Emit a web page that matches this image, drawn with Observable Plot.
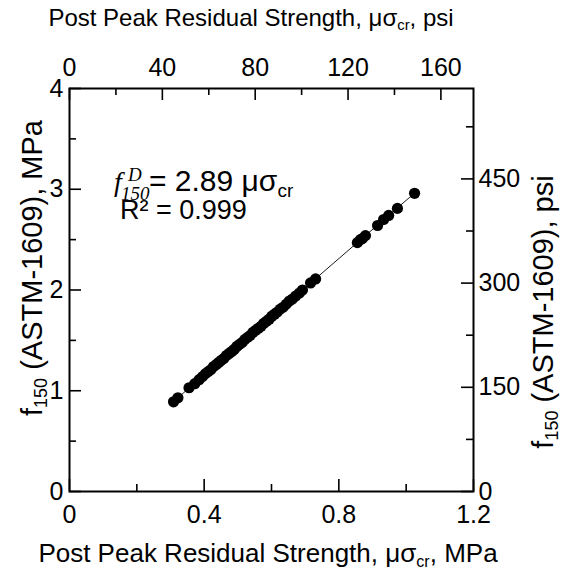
<!DOCTYPE html>
<html>
<head>
<meta charset="utf-8">
<script src="https://cdn.jsdelivr.net/npm/d3@7"></script>
<script src="https://cdn.jsdelivr.net/npm/@observablehq/plot@0.6"></script>
<style>
  html, body { margin: 0; padding: 0; background: white; }
  #chart { width: 566px; height: 578px; }
</style>
</head>
<body>
<div id="chart"></div>
<script>
// ---- data ----
const PSI_PER_MPA = 145.038;
const xMajorTicks = [0, 0.4, 0.8, 1.2];
const xMinorTicks = [0.2, 0.6, 1.0];
const yMajorTicks = [0, 1, 2, 3, 4];
const yMinorTicks = [0.5, 1.5, 2.5, 3.5];
const topPsiMajor = [0, 40, 80, 120, 160];
const topPsiMinor = [20, 60, 100, 140];
const rightPsiMajor = [0, 150, 300, 450];
const rightPsiMinor = [75, 225, 375, 525];

const residual = [0.309, 0.322, 0.355, 0.372, 0.385, 0.395, 0.404, 0.412, 0.420, 0.428,
  0.436, 0.443, 0.450, 0.458, 0.466, 0.474, 0.482, 0.489, 0.497, 0.505,
  0.513, 0.521, 0.529, 0.537, 0.545, 0.553, 0.561, 0.569, 0.577, 0.585,
  0.593, 0.601, 0.609, 0.617, 0.626, 0.635, 0.644, 0.653, 0.662, 0.672,
  0.683, 0.692, 0.716, 0.731, 0.855, 0.864, 0.870, 0.879, 0.915, 0.933,
  0.948, 0.974, 1.025];
const f150 = [0.89, 0.93, 1.03, 1.07, 1.11, 1.14, 1.17, 1.19, 1.21, 1.24,
  1.26, 1.28, 1.30, 1.32, 1.35, 1.37, 1.39, 1.41, 1.44, 1.46,
  1.48, 1.51, 1.53, 1.55, 1.58, 1.60, 1.62, 1.64, 1.67, 1.69,
  1.71, 1.74, 1.76, 1.78, 1.81, 1.83, 1.86, 1.89, 1.91, 1.94,
  1.97, 2.00, 2.07, 2.11, 2.47, 2.50, 2.51, 2.54, 2.64, 2.70,
  2.74, 2.81, 2.96];
const fitX = [0.309, 1.025];
const fitY = [0.893, 2.962];

// ---- layout ----
const W = 566, H = 578;
const mL = 69, mR = 93, mT = 88, mB = 87;
const innerW = W - mL - mR, innerH = H - mT - mB;
const majorLen = 12, minorLen = 7;
const FS_TICK = 25;
const X_MAX = 1.2, Y_MAX = 4;
const xLen = px => px / innerW * X_MAX;
const yLen = px => px / innerH * Y_MAX;

const points = residual.map((x, i) => ({x, y: f150[i]}));
const fit = fitX.map((x, i) => ({x, y: fitY[i]}));

const tickStyle = {stroke: "black", strokeWidth: 1.6};

const chart = Plot.plot({
  width: W, height: H,
  marginLeft: mL, marginRight: mR, marginTop: mT, marginBottom: mB,
  x: {domain: [0, X_MAX]},
  y: {domain: [0, Y_MAX]},
  style: {fontFamily: "'Liberation Sans', Arial, sans-serif", fontSize: FS_TICK + "px", color: "black", background: "white"},
  marks: [
    // inward ticks bottom / top
    Plot.ruleX(xMajorTicks, {x: d => d, y1: 0, y2: yLen(majorLen), ...tickStyle}),
    Plot.ruleX(xMinorTicks, {x: d => d, y1: 0, y2: yLen(minorLen), ...tickStyle}),
    Plot.ruleX(topPsiMajor, {x: d => d / PSI_PER_MPA, y1: Y_MAX - yLen(majorLen), y2: Y_MAX, ...tickStyle}),
    Plot.ruleX(topPsiMinor, {x: d => d / PSI_PER_MPA, y1: Y_MAX - yLen(minorLen), y2: Y_MAX, ...tickStyle}),
    // inward ticks left / right
    Plot.ruleY(yMajorTicks, {y: d => d, x1: 0, x2: xLen(majorLen), ...tickStyle}),
    Plot.ruleY(yMinorTicks, {y: d => d, x1: 0, x2: xLen(minorLen), ...tickStyle}),
    Plot.ruleY(rightPsiMajor, {y: d => d / PSI_PER_MPA, x1: X_MAX - xLen(majorLen), x2: X_MAX, ...tickStyle}),
    Plot.ruleY(rightPsiMinor, {y: d => d / PSI_PER_MPA, x1: X_MAX - xLen(minorLen), x2: X_MAX, ...tickStyle}),
    // tick labels
    Plot.axisX({anchor: "bottom", ticks: xMajorTicks, tickSize: 0, tickPadding: 14, label: null,
      tickFormat: d => d === 0 ? "0" : d3.format(".1f")(d)}),
    Plot.axisX({anchor: "top", ticks: topPsiMajor.map(p => p / PSI_PER_MPA), tickSize: 0, tickPadding: 13, label: null,
      tickFormat: d => String(Math.round(d * PSI_PER_MPA))}),
    Plot.axisY({anchor: "left", ticks: yMajorTicks, tickSize: 0, tickPadding: 6, label: null,
      tickFormat: d => String(d)}),
    Plot.axisY({anchor: "right", ticks: rightPsiMajor.map(p => p / PSI_PER_MPA), tickSize: 0, tickPadding: 5, label: null,
      tickFormat: d => String(Math.round(d * PSI_PER_MPA))}),
    // fit line and data
    Plot.line(fit, {x: "x", y: "y", stroke: "black", strokeWidth: 0.9}),
    Plot.dot(points, {x: "x", y: "y", r: 5.6, fill: "black", stroke: "none"}),
    Plot.frame({stroke: "black", strokeWidth: 2})
  ]
});

document.getElementById("chart").appendChild(chart);

// ---- titles and annotation ----
const svg = d3.select(chart);
const sans = "'Liberation Sans', Arial, sans-serif";
const serif = "'Liberation Serif', 'Times New Roman', serif";

function subTitle(t, parts) {
  parts.forEach(p => {
    const ts = t.append("tspan").text(p.text);
    if (p.sub) ts.attr("font-size", "0.62em").attr("dy", "0.3em");
    if (p.back) ts.attr("dy", "-0.19em");
  });
  return t;
}

subTitle(svg.append("text")
  .attr("x", 251).attr("y", 26)
  .attr("text-anchor", "middle").attr("font-family", sans).attr("font-size", 24),
  [{text: "Post Peak Residual Strength, μσ"}, {text: "cr", sub: true}, {text: ", psi", back: true}]);

subTitle(svg.append("text")
  .attr("x", 268).attr("y", 562)
  .attr("text-anchor", "middle").attr("font-family", sans).attr("font-size", 26),
  [{text: "Post Peak Residual Strength, μσ"}, {text: "cr", sub: true}, {text: ", MPa", back: true}]);

subTitle(svg.append("text")
  .attr("transform", `translate(${42},${268}) rotate(-90)`)
  .attr("text-anchor", "middle").attr("font-family", sans).attr("font-size", 29),
  [{text: "f"}, {text: "150", sub: true}, {text: " (ASTM-1609), MPa", back: true}]);

subTitle(svg.append("text")
  .attr("transform", `translate(${553},${312}) rotate(-90)`)
  .attr("text-anchor", "middle").attr("font-family", sans).attr("font-size", 29),
  [{text: "f"}, {text: "150", sub: true}, {text: " (ASTM-1609), psi", back: true}]);

// annotation
const ann = svg.append("text").attr("x", 114).attr("y", 191).attr("font-size", 28)
  .attr("text-anchor", "start");
ann.append("tspan").attr("font-family", serif).attr("font-style", "italic").text("f");
ann.append("tspan").attr("x", 128).attr("font-family", serif).attr("font-style", "italic")
  .attr("font-size", "0.68em").attr("dy", "-0.5em").text("D");
ann.append("tspan").attr("x", 121).attr("font-family", serif).attr("font-style", "italic")
  .attr("font-size", "0.68em").attr("dy", "0.95em").text("150");
ann.append("tspan").attr("x", 149).attr("font-family", sans).attr("font-size", 30).attr("dy", "-0.28em").text("= 2.89 μσ");
ann.append("tspan").attr("font-family", sans).attr("font-size", 19).attr("dy", "0.3em").text("cr");

svg.append("text").attr("x", 120).attr("y", 219).attr("font-size", 27).attr("font-family", sans)
  .attr("text-anchor", "start").text("R² = 0.999");
</script>
</body>
</html>
